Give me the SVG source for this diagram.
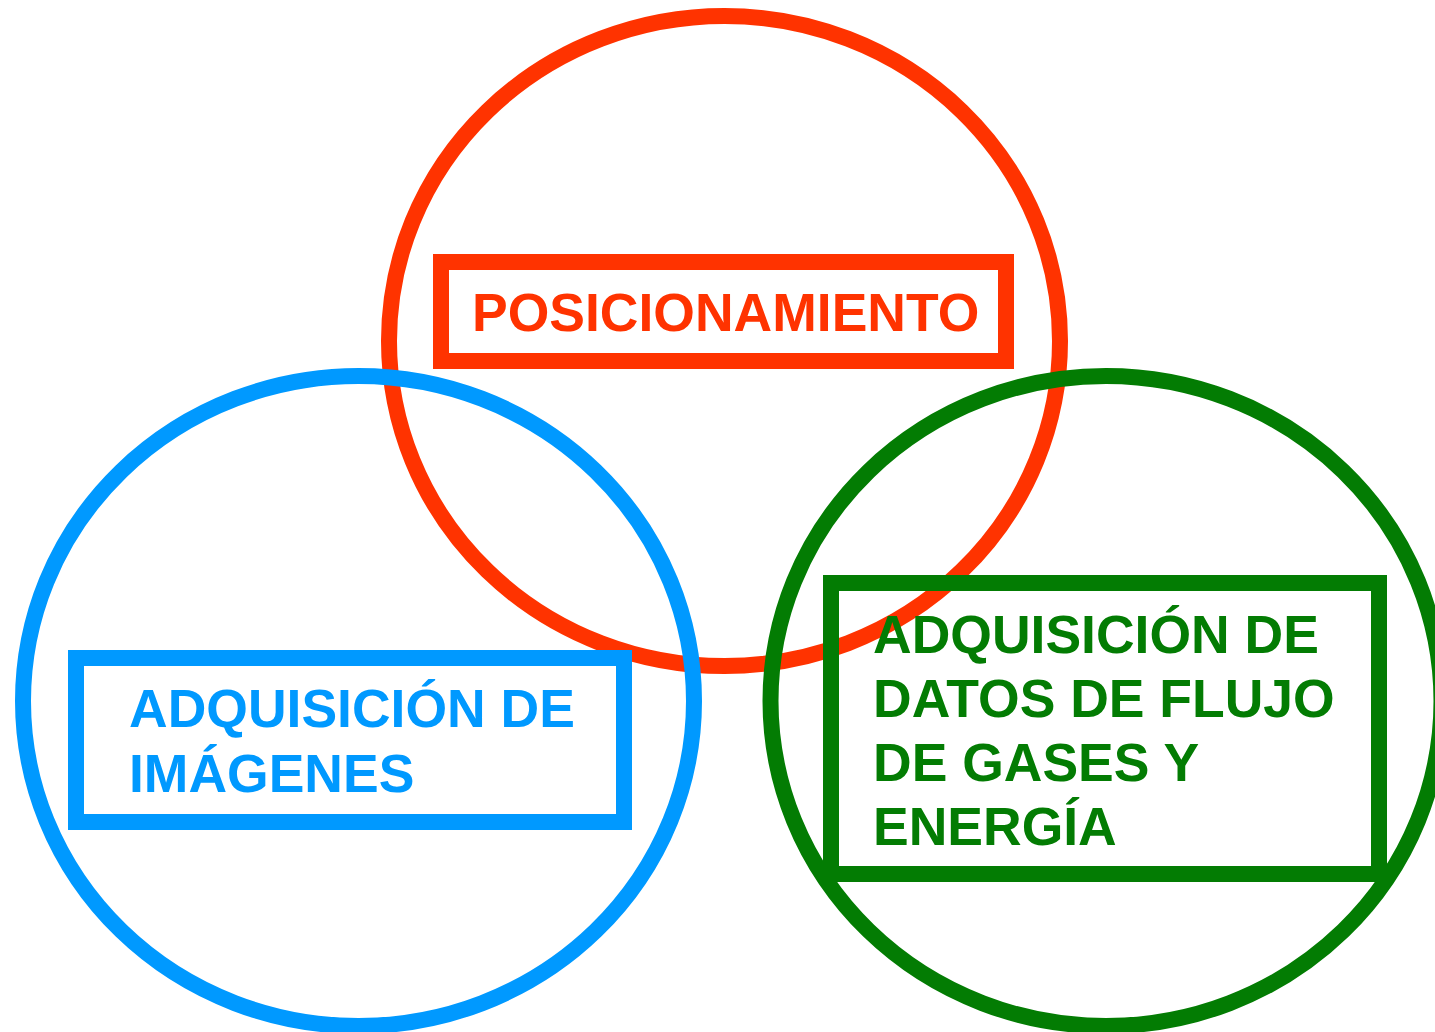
<svg xmlns="http://www.w3.org/2000/svg" width="1435" height="1032" viewBox="0 0 1435 1032">
<style>
.e{fill:none;stroke-width:16}
.r{fill:none;stroke-width:16}
.t{font-family:"Liberation Sans",Arial,sans-serif;font-weight:bold;font-size:53.5px}
.red{stroke:#ff3300}
.blue{stroke:#0099ff}
.green{stroke:#037c03}
</style>
<rect width="1435" height="1032" fill="#ffffff"/>
<g id="circle-posicionamiento">
<ellipse class="e red" cx="724.5" cy="341" rx="335.5" ry="325"/>
</g>
<g id="circle-imagenes">
<ellipse class="e blue" cx="358.5" cy="701" rx="335.5" ry="325"/>
</g>
<g id="circle-flujo">
<ellipse class="e green" cx="1106" cy="701" rx="335.5" ry="325"/>
</g>
<g id="connectors"></g>
<g id="node-posicionamiento">
<rect class="r red" x="441" y="262" width="565" height="99"/>
<text class="t" x="472" y="331" fill="#ff3300">POSICIONAMIENTO</text>
</g>
<g id="node-imagenes">
<rect class="r blue" x="76" y="658" width="548" height="164"/>
<text class="t" fill="#0099ff"><tspan x="129" y="727">ADQUISICIÓN DE</tspan><tspan x="129" y="792">IMÁGENES</tspan></text>
</g>
<g id="node-flujo">
<rect class="r green" x="831" y="583" width="548" height="291"/>
<text class="t" fill="#037c03"><tspan x="873" y="653">ADQUISICIÓN DE</tspan><tspan x="873" y="717">DATOS DE FLUJO</tspan><tspan x="873" y="781">DE GASES Y</tspan><tspan x="873" y="845">ENERGÍA</tspan></text>
</g>
</svg>
